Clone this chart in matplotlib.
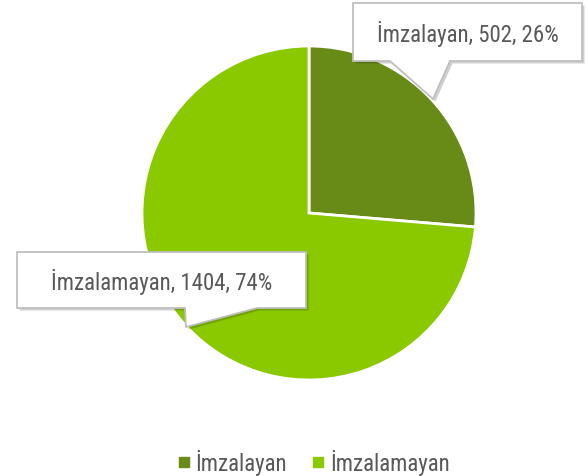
import matplotlib.pyplot as plt
from matplotlib.patches import Polygon
from matplotlib.lines import Line2D

labels = ['İmzalayan', 'İmzalamayan']
values = [502, 1404]
colors = ['#688A17', '#8AC800']

plt.rcParams['font.family'] = ['Roboto Condensed', 'DejaVu Sans']
W, H = 587, 477
fig = plt.figure(figsize=(W / 100, H / 100), dpi=100)

# pie placed by pixel centre / radius
cx, cy, r = 309, 214, 167
ax = fig.add_axes([(cx - r) / W, (H - cy - r) / H, 2 * r / W, 2 * r / H])
ax.pie(values, colors=colors, startangle=90, counterclock=False,
       wedgeprops=dict(edgecolor='white', linewidth=2))
ax.set_xlim(-1, 1)
ax.set_ylim(-1, 1)
ax.set_aspect('equal')
ax.axis('off')

# overlay in pixel coords for callouts
ov = fig.add_axes([0, 0, 1, 1])
ov.set_xlim(0, W)
ov.set_ylim(H, 0)
ov.axis('off')

total = sum(values)
texts = [f'{l}, {v}, {round(v / total * 100)}%' for l, v in zip(labels, values)]

# box (x0, y0, x1, y1), pointer base left/right x, tip
callouts = [
    ((353, 4, 582, 62), (390, 450), (433, 100)),
    ((17, 253, 306, 309), (185, 257), (186, 328)),
]
for ((x0, y0, x1, y1), (bl, br), tip), txt in zip(callouts, texts):
    pts = [(x0, y0), (x1, y0), (x1, y1), (br, y1), tip, (bl, y1), (x0, y1)]
    sh = [(x + 2.5, y + 2.5) for x, y in pts]
    ov.add_patch(Polygon(sh, closed=True, facecolor='#000000', alpha=0.18, edgecolor='none'))
    ov.add_patch(Polygon(pts, closed=True, facecolor='white', edgecolor='#BFBFBF', linewidth=1.3))
    ov.text((x0 + x1) / 2, (y0 + y1) / 2 + 1, txt, ha='center', va='center',
            fontsize=16.5, color='#595959')

handles = [Line2D([], [], marker='s', linestyle='none', markersize=7.5,
                  markerfacecolor=c, markeredgecolor=c) for c in colors]
fig.legend(handles, labels, loc='center', bbox_to_anchor=(313 / W, 1 - 463 / H),
           ncol=2, frameon=False, prop=dict(size=16.5),
           labelcolor='#595959', handletextpad=0.15, columnspacing=1.0,
           handlelength=0.7)

fig.savefig('out.png', dpi=100)
